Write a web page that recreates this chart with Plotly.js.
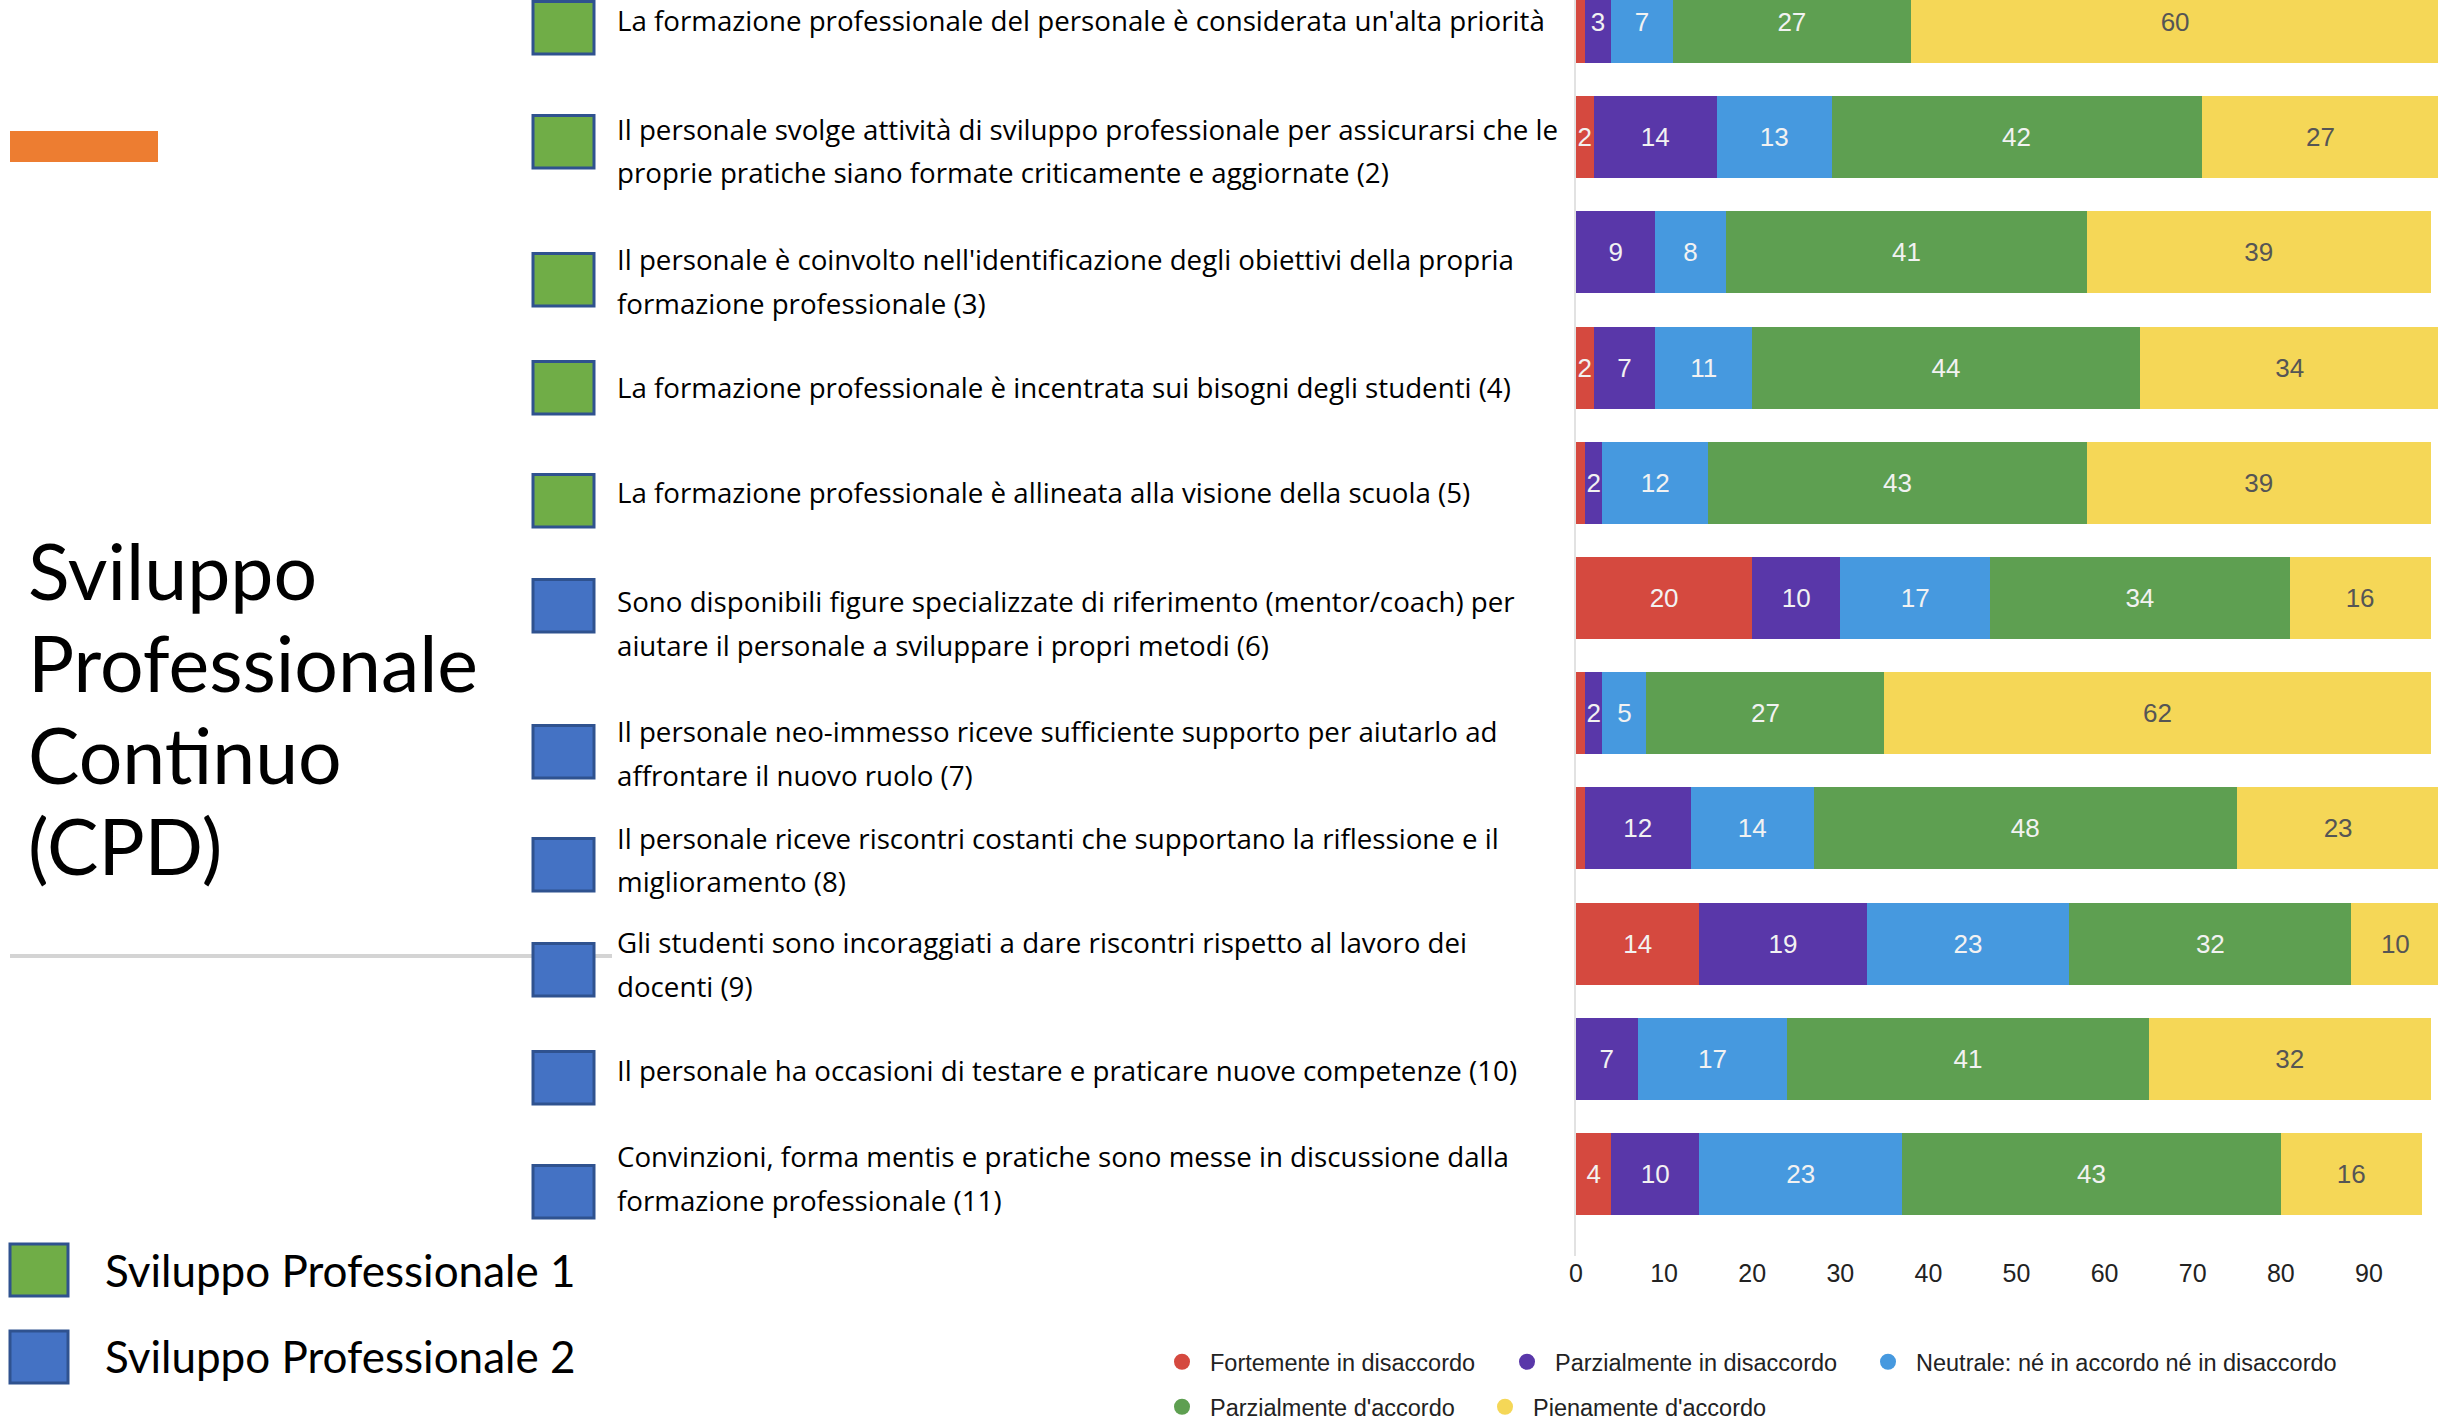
<!DOCTYPE html>
<html>
<head>
<meta charset="utf-8">
<script src="https://cdn.plot.ly/plotly-3.0.1.min.js"></script>
<style>
  html, body { margin: 0; padding: 0; background: #ffffff; }
  #chart { width: 2438px; height: 1420px; }
</style>
</head>
<body>
<div id="chart"></div>
<script>
// ---------------- DATA ----------------
const questionLines = [
  ["La formazione professionale del personale è considerata un'alta priorità"],
  ["Il personale svolge attività di sviluppo professionale per assicurarsi che le", "proprie pratiche siano formate criticamente e aggiornate (2)"],
  ["Il personale è coinvolto nell'identificazione degli obiettivi della propria", "formazione professionale (3)"],
  ["La formazione professionale è incentrata sui bisogni degli studenti (4)"],
  ["La formazione professionale è allineata alla visione della scuola (5)"],
  ["Sono disponibili figure specializzate di riferimento (mentor/coach) per", "aiutare il personale a sviluppare i propri metodi (6)"],
  ["Il personale neo-immesso riceve sufficiente supporto per aiutarlo ad", "affrontare il nuovo ruolo (7)"],
  ["Il personale riceve riscontri costanti che supportano la riflessione e il", "miglioramento (8)"],
  ["Gli studenti sono incoraggiati a dare riscontri rispetto al lavoro dei", "docenti (9)"],
  ["Il personale ha occasioni di testare e praticare nuove competenze (10)"],
  ["Convinzioni, forma mentis e pratiche sono messe in discussione dalla", "formazione professionale (11)"]
];
const categories = questionLines.map(l => l.join(' '));
const questionGroup = [1, 1, 1, 1, 1, 2, 2, 2, 2, 2, 2];

const seriesNames = [
  "Fortemente in disaccordo",
  "Parzialmente in disaccordo",
  "Neutrale: né in accordo né in disaccordo",
  "Parzialmente d'accordo",
  "Pienamente d'accordo"
];
const fortementeDisaccordo   = [1, 2, 0, 2, 1, 20, 1, 1, 14, 0, 4];
const parzialmenteDisaccordo = [3, 14, 9, 7, 2, 10, 2, 12, 19, 7, 10];
const neutrale               = [7, 13, 8, 11, 12, 17, 5, 14, 23, 17, 23];
const parzialmenteAccordo    = [27, 42, 41, 44, 43, 34, 27, 48, 32, 41, 43];
const pienamenteAccordo      = [60, 27, 39, 34, 39, 16, 62, 23, 10, 32, 16];
const seriesValues = [fortementeDisaccordo, parzialmenteDisaccordo, neutrale, parzialmenteAccordo, pienamenteAccordo];

const xTickValues = [0, 10, 20, 30, 40, 50, 60, 70, 80, 90];

const titleLines = ["Sviluppo", "Professionale", "Continuo", "(CPD)"];
const groupLegendLabels = ["Sviluppo Professionale 1", "Sviluppo Professionale 2"];

// ---------------- STYLE / LAYOUT CONSTANTS ----------------
const seriesColors = ["#D5493F", "#5937A9", "#4699DF", "#5E9F51", "#F5D757"];
const textColors   = ["#f2f2f2", "#f2f2f2", "#f2f2f2", "#f2f2f2", "#555555"];
const groupFill = {1: "#70AD47", 2: "#4472C4"};
const squareLine = "#2F528F";

const W = 2438, H = 1420;
const M = {l: 1576, r: 0, t: 0, b: 164};
const plotH = H - M.t - M.b, plotW = W - M.l - M.r;
const px = x => (x - M.l) / plotW;
const py = y => (H - M.b - y) / plotH;

// pixel layout of the left panel (PowerPoint-like overlay)
const squareTops = [0, 114, 252, 360, 473, 578, 724, 837, 942, 1050, 1164];
const lineCenters = [[20], [129, 172], [259, 303], [387], [492], [601, 645], [731, 775], [838, 881], [942, 986], [1070], [1156, 1200]];
const titleCenters = [570, 662, 754, 845];

// ---------------- TRACES ----------------
const traces = [];
seriesValues.forEach((vals, k) => {
  traces.push({
    type: 'bar',
    orientation: 'h',
    name: seriesNames[k],
    y: categories,
    x: vals,
    text: vals.map(v => v >= 2 ? String(v) : ''),
    textposition: 'inside',
    insidetextanchor: 'middle',
    constraintext: 'none',
    textangle: 0,
    textfont: {family: 'Liberation Sans, Arial, sans-serif', size: 26, color: textColors[k]},
    marker: {color: seriesColors[k], line: {width: 0}},
    showlegend: false,
    hoverinfo: 'skip',
    cliponaxis: true
  });
});
// legend entries (circle symbols like the reference)
const legendItemWidths = [284, 300, 480, 262, 280];
seriesNames.forEach((nm, k) => {
  traces.push({
    type: 'scatter',
    mode: 'markers',
    name: nm,
    x: [null], y: [null],
    marker: {color: seriesColors[k], size: 16, symbol: 'circle'},
    legend: k < 3 ? 'legend' : 'legend2',
    legendwidth: legendItemWidths[k],
    showlegend: true,
    hoverinfo: 'skip'
  });
});

// ---------------- SHAPES ----------------
const shapes = [];
// orange bar
shapes.push({type: 'rect', xref: 'paper', yref: 'paper', x0: px(10), x1: px(158), y0: py(131), y1: py(162),
  fillcolor: '#ED7D31', line: {width: 0}});
// grey separator line
shapes.push({type: 'line', xref: 'paper', yref: 'paper', x0: px(10), x1: px(612), y0: py(956), y1: py(956),
  line: {color: '#d4d4d4', width: 4}});
// row squares
squareTops.forEach((t, i) => {
  shapes.push({type: 'rect', xref: 'paper', yref: 'paper', x0: px(533), x1: px(594), y0: py(t + 1.5), y1: py(t + 54),
    fillcolor: groupFill[questionGroup[i]], line: {color: squareLine, width: 3}});
});
// group legend squares
[[1244, 1296], [1331, 1383]].forEach((r, g) => {
  shapes.push({type: 'rect', xref: 'paper', yref: 'paper', x0: px(10), x1: px(68), y0: py(r[0]), y1: py(r[1]),
    fillcolor: groupFill[g + 1], line: {color: squareLine, width: 3}});
});

// ---------------- ANNOTATIONS ----------------
const annotations = [];
titleLines.forEach((t, i) => {
  annotations.push({xref: 'paper', yref: 'paper', x: px(26), y: py(titleCenters[i]), xanchor: 'left', yanchor: 'middle',
    text: t, showarrow: false, font: {family: 'Lato, sans-serif', size: 77, color: '#000'}});
});
questionLines.forEach((lines, i) => {
  lines.forEach((ln, j) => {
    annotations.push({xref: 'paper', yref: 'paper', x: px(615), y: py(lineCenters[i][j]), xanchor: 'left', yanchor: 'middle',
      text: ln, showarrow: false, font: {family: 'Open Sans, sans-serif', size: 27.7, color: '#000'}});
  });
});
groupLegendLabels.forEach((t, g) => {
  annotations.push({xref: 'paper', yref: 'paper', x: px(103), y: py([1270, 1356][g]), xanchor: 'left', yanchor: 'middle',
    text: t, showarrow: false, font: {family: 'Lato, sans-serif', size: 44, color: '#000'}});
});

// ---------------- LAYOUT ----------------
const legendCommon = {
  orientation: 'h', xanchor: 'left', yanchor: 'top', bgcolor: 'rgba(0,0,0,0)', borderwidth: 0,
  traceorder: 'normal',
  itemwidth: 46, font: {family: 'Liberation Sans, Arial, sans-serif', size: 23.5, color: '#222'}
};
const layout = {
  width: W, height: H,
  margin: {l: M.l, r: M.r, t: M.t, b: M.b, pad: 0, autoexpand: false},
  paper_bgcolor: '#ffffff', plot_bgcolor: '#ffffff',
  barmode: 'stack',
  bargap: 0.288,
  showlegend: true,
  legend: Object.assign({}, legendCommon, {x: px(1154), y: py(1340)}),
  legend2: Object.assign({}, legendCommon, {x: px(1154), y: py(1385)}),
  xaxis: {
    range: [0, 97.84], autorange: false, tickvals: xTickValues, ticktext: xTickValues.map(String),
    showgrid: false, zeroline: false, showline: false, ticks: '',
    tickfont: {family: 'Liberation Sans, Arial, sans-serif', size: 25, color: '#222'},
    fixedrange: true
  },
  yaxis: {
    type: 'category', categoryorder: 'array', categoryarray: categories,
    range: [10.712, -0.191], autorange: false,
    showticklabels: false, showgrid: false, zeroline: false, ticks: '',
    showline: true, linecolor: '#e2e2e2', linewidth: 2,
    fixedrange: true
  },
  shapes: shapes,
  annotations: annotations,
  font: {family: 'Liberation Sans, Arial, sans-serif'}
};

Plotly.newPlot('chart', traces, layout, {displayModeBar: false, staticPlot: true});
</script>
</body>
</html>
